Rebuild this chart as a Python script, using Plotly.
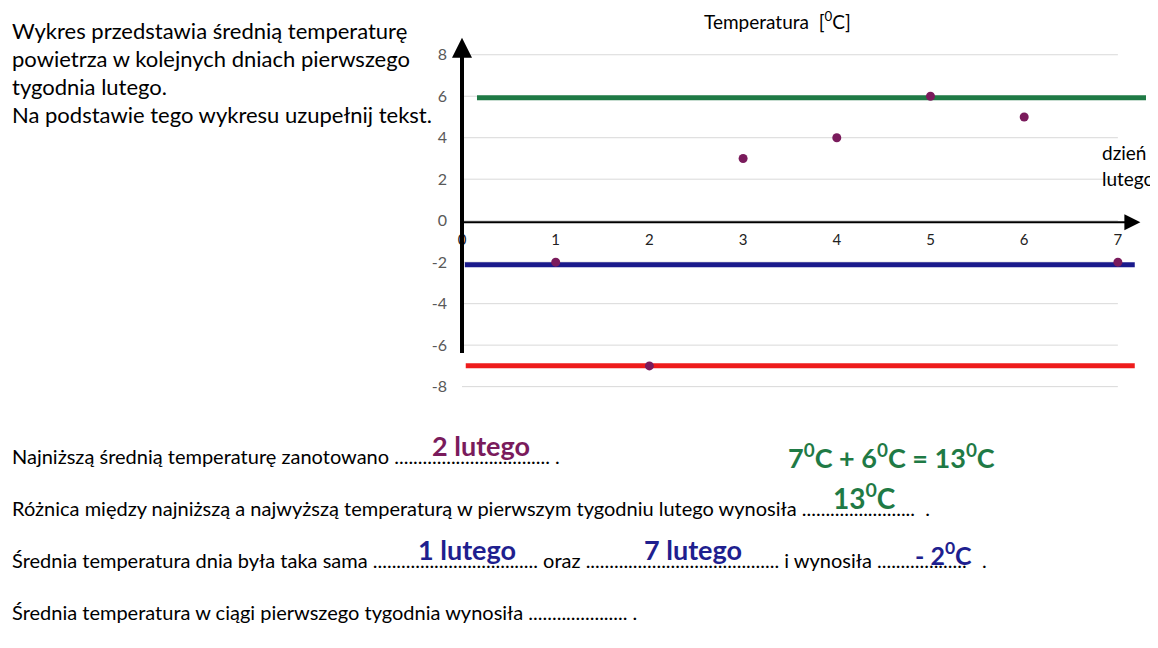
import plotly.graph_objects as go

# ---- data ----
days = [1, 2, 3, 4, 5, 6, 7]
temps = [-2, -7, 3, 4, 6, 5, -2]
x_ticks = [0, 1, 2, 3, 4, 5, 6, 7]
x_tick_labels = ["0", "1", "2", "3", "4", "5", "6", "7"]
y_ticks = [-8, -6, -4, -2, 0, 2, 4, 6, 8]
y_tick_labels = ["-8", "-6", "-4", "-2", "0", "2", "4", "6", "8"]
ref_values = [5.93, -2.12, -6.99]          # green (max), blue (-2), red (min)
ref_x_start = [0.16, 0.03, 0.04]
ref_x_end = [7.3, 7.18, 7.18]
ref_colors = ["#1f7a45", "#1a1a8c", "#ee1c1c"]

# ---- layout geometry (page pixels; the page body adds an 8px margin) ----
OFF = 8
FW, FH = 1158 - OFF, 648 - 2 * OFF
L, R, T, B = 462, 1146, 34, 397
XMIN, XMAX = 0, 7.3
YMIN, YMAX = -8.5, 9


def px_x(p):
    return (p - L) / (R - L)


def px_y(p):
    return (B - p) / (B - T)


FONT = "Lato, 'Open Sans', sans-serif"

fig = go.Figure()

for v, x0, x1, c in zip(ref_values, ref_x_start, ref_x_end, ref_colors):
    fig.add_trace(go.Scatter(x=[x0, x1], y=[v, v], mode="lines",
                             line=dict(color=c, width=5), hoverinfo="skip",
                             showlegend=False))

fig.add_trace(go.Scatter(x=days, y=temps, mode="markers",
                         marker=dict(color="#7a1b5c", size=9),
                         showlegend=False, cliponaxis=False))

shapes = []
for yv in y_ticks:
    shapes.append(dict(type="line", xref="x", yref="y", x0=x_ticks[0], x1=x_ticks[-1],
                       y0=yv, y1=yv, line=dict(color="#d9d9d9", width=1), layer="below"))
shapes.append(dict(type="rect", xref="paper", yref="paper",
                   x0=px_x(1150), x1=px_x(1170), y0=px_y(600), y1=px_y(-10),
                   fillcolor="#111111", line=dict(width=0), layer="above"))
shapes.append(dict(type="rect", xref="paper", yref="paper",
                   x0=px_x(1150), x1=px_x(1170), y0=px_y(660), y1=px_y(600),
                   fillcolor="#8a8a8a", line=dict(width=0), layer="above"))

annotations = []
annotations.append(dict(x=0, y=8.82, ax=0, ay=-6.45, xref="x", yref="y", axref="x", ayref="y",
                        text="", showarrow=True, arrowhead=2, arrowsize=1.0, arrowwidth=4,
                        arrowcolor="black"))
annotations.append(dict(x=7.24, y=-0.08, ax=0, ay=-0.08, xref="x", yref="y", axref="x", ayref="y",
                        text="", showarrow=True, arrowhead=2, arrowsize=1.6, arrowwidth=2,
                        arrowcolor="black"))


def txt(text, x, y, size, color="black", bold=False, anchor="left"):
    if bold:
        text = "<b>" + text + "</b>"
    annotations.append(dict(text=text, x=px_x(x), y=px_y(y), xref="paper", yref="paper",
                            xanchor=anchor, yanchor="middle", showarrow=False,
                            font=dict(family=FONT, size=size, color=color)))


txt("Temperatura  [<sup>0</sup>C]", 777, 20, 19, anchor="center")
txt("dzień", 1100, 152, 19)
txt("lutego", 1100, 178, 19)

intro = ["Wykres przedstawia średnią temperaturę",
         "powietrza w kolejnych dniach pierwszego",
         "tygodnia lutego.",
         "Na podstawie tego wykresu uzupełnij tekst."]
for i, line in enumerate(intro):
    txt(line, 10, 30 + 28 * i, 22)

q = ["Najniższą średnią temperaturę zanotowano " + "." * 33 + " .",
     "Różnica między najniższą a najwyższą temperaturą w pierwszym tygodniu lutego wynosiła " + "." * 24 + "  .",
     "Średnia temperatura dnia była taka sama " + "." * 35 + " oraz " + "." * 41 + " i wynosiła " + "." * 19 + "   .",
     "Średnia temperatura w ciągi pierwszego tygodnia wynosiła " + "." * 21 + " ."]
for i, line in enumerate(q):
    txt(line, 10, 456 + 52 * i, 20)

txt("2 lutego", 481, 446, 27, "#7a1b5c", True, "center")
txt("7<sup>0</sup>C + 6<sup>0</sup>C = 13<sup>0</sup>C", 786, 456, 27, "#1f7a45", True)
txt("13<sup>0</sup>C", 831, 496, 28, "#1f7a45", True)
txt("1 lutego", 416, 549, 27, "#1f1f8f", True)
txt("7 lutego", 642, 549, 27, "#1f1f8f", True)
txt("- 2<sup>0</sup>C", 913, 553, 25, "#1f1f8f", True)

fig.update_layout(
    width=FW, height=FH,
    margin=dict(l=L - OFF, r=FW - (R - OFF), t=T - OFF, b=FH - (B - OFF)),
    paper_bgcolor="white", plot_bgcolor="white",
    shapes=shapes, annotations=annotations,
    xaxis=dict(range=[XMIN, XMAX], tickvals=x_ticks, ticktext=x_tick_labels,
               showgrid=False, zeroline=False, showline=False,
               anchor="free", position=(0 - YMIN) / (YMAX - YMIN),
               ticks="", ticklabelstandoff=8,
               tickfont=dict(family=FONT, size=15, color="#222222")),
    yaxis=dict(range=[YMIN, YMAX], tickvals=y_ticks, ticktext=y_tick_labels,
               showgrid=False, zeroline=False, showline=False, ticks="",
               ticklabelstandoff=14,
               tickfont=dict(family=FONT, size=16, color="#595959")),
    showlegend=False,
)

fig.write_html("out.html")
